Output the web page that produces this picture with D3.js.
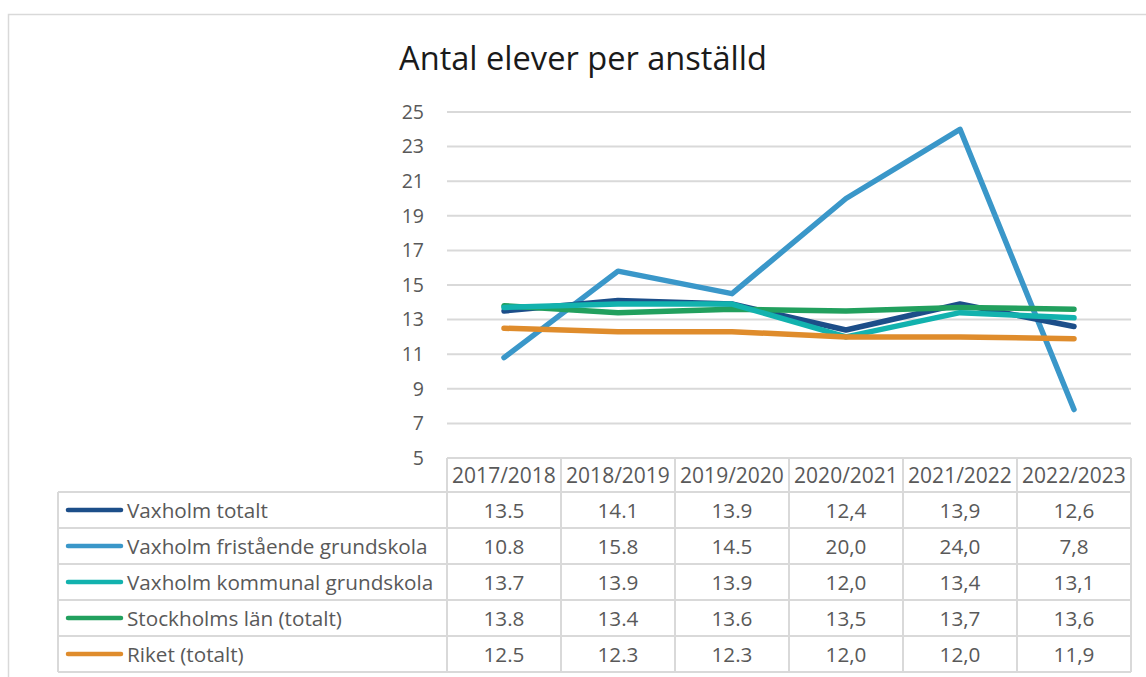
<!DOCTYPE html>
<html>
<head>
<meta charset="utf-8">
<script src="https://cdn.jsdelivr.net/npm/d3@7"></script>
<style>
  body { margin: 0; background: #fff; }
  svg { display: block; font-family: "Open Sans", sans-serif; }
</style>
</head>
<body>
<svg id="chart" width="1146" height="677"></svg>
<script>
// data
const categories = ['2017/2018', '2018/2019', '2019/2020', '2020/2021', '2021/2022', '2022/2023'];
const decimalMarks = ['.', '.', '.', ',', ',', ','];
const seriesNames = [
    'Vaxholm totalt',
    'Vaxholm fristående grundskola',
    'Vaxholm kommunal grundskola',
    'Stockholms län (totalt)',
    'Riket (totalt)'
];
const vaxholmTotalt = [13.5, 14.1, 13.9, 12.4, 13.9, 12.6];
const vaxholmFristaende = [10.8, 15.8, 14.5, 20.0, 24.0, 7.8];
const vaxholmKommunal = [13.7, 13.9, 13.9, 12.0, 13.4, 13.1];
const stockholmsLan = [13.8, 13.4, 13.6, 13.5, 13.7, 13.6];
const riket = [12.5, 12.3, 12.3, 12.0, 12.0, 11.9];
const yTicks = [5, 7, 9, 11, 13, 15, 17, 19, 21, 23, 25];

const seriesValues = [vaxholmTotalt, vaxholmFristaende, vaxholmKommunal, stockholmsLan, riket];
const colors = ['#1c4e89', '#3a97c9', '#12b2ae', '#22a05e', '#df8c2c'];
// draw order: green before teal so teal sits on top like the original
const drawOrder = [1, 0, 3, 2, 4];

const svg = d3.select('#chart');
const grey = '#d9d9d9';
const txt = '#595959';
const fs = 20.7;

const plot = {l: 447, r: 1131, t: 112, b: 458};
const rowH = 36;
const headH = 34;
const legendL = 58;

const xS = d3.scaleBand().domain(categories).range([plot.l, plot.r]);
const yS = d3.scaleLinear().domain([5, 25]).range([plot.b, plot.t]);

// outer chart border
svg.append('rect')
  .attr('x', 8.5).attr('y', 14.5)
  .attr('width', 1160).attr('height', 700)
  .attr('fill', 'none').attr('stroke', grey).attr('stroke-width', 1.5);

// title
svg.append('text')
  .attr('x', 583).attr('y', 70)
  .attr('text-anchor', 'middle')
  .attr('font-size', 32.6)
  .attr('fill', '#1a1a1a')
  .text('Antal elever per anställd');

// gridlines
svg.append('g').selectAll('line')
  .data(yTicks.filter(d => d > 5))
  .join('line')
  .attr('x1', plot.l).attr('x2', plot.r)
  .attr('y1', d => yS(d)).attr('y2', d => yS(d))
  .attr('stroke', grey).attr('stroke-width', 2);

// y axis labels
const yAxis = svg.append('g')
  .attr('transform', `translate(${plot.l},0)`)
  .call(d3.axisLeft(yS).tickValues(yTicks).tickSize(0).tickPadding(23).tickFormat(d3.format('d')));
yAxis.select('.domain').remove();
yAxis.selectAll('text')
  .attr('font-family', '"Open Sans", sans-serif')
  .attr('font-size', 19.5)
  .attr('fill', txt);

// lines
const line = d3.line()
  .x((d, i) => xS(categories[i]) + xS.bandwidth() / 2)
  .y(d => yS(d));

svg.append('g').selectAll('path')
  .data(drawOrder)
  .join('path')
  .attr('d', k => line(seriesValues[k]))
  .attr('fill', 'none')
  .attr('stroke', k => colors[k])
  .attr('stroke-width', 5.5)
  .attr('stroke-linejoin', 'round')
  .attr('stroke-linecap', 'round');

// data table
const tbl = svg.append('g');
const tableTop = plot.b;
const bodyTop = tableTop + headH;
const tableBottom = bodyTop + rowH * seriesNames.length;

// header cells
tbl.selectAll('.hdr')
  .data(categories)
  .join('text')
  .attr('class', 'hdr')
  .attr('x', d => xS(d) + xS.bandwidth() / 2)
  .attr('y', tableTop + headH / 2 + 7.5)
  .attr('text-anchor', 'middle')
  .attr('font-size', 21)
  .attr('fill', txt)
  .text(d => d);

// row names + keys
const rows = tbl.selectAll('.row')
  .data(seriesNames)
  .join('g')
  .attr('class', 'row')
  .attr('transform', (d, i) => `translate(0,${bodyTop + i * rowH})`);

rows.append('line')
  .attr('x1', 68).attr('x2', 121)
  .attr('y1', rowH / 2).attr('y2', rowH / 2)
  .attr('stroke', (d, i) => colors[i])
  .attr('stroke-width', 4.5)
  .attr('stroke-linecap', 'round');

rows.append('text')
  .attr('x', 127).attr('y', rowH / 2 + 7.5)
  .attr('font-size', fs)
  .attr('fill', txt)
  .text(d => d);

rows.selectAll('.val')
  .data((d, i) => seriesValues[i].map((v, j) => ({v, j})))
  .join('text')
  .attr('class', 'val')
  .attr('x', d => xS(categories[d.j]) + xS.bandwidth() / 2)
  .attr('y', rowH / 2 + 7.5)
  .attr('text-anchor', 'middle')
  .attr('font-size', fs)
  .attr('fill', txt)
  .text(d => d.v.toFixed(1).replace('.', decimalMarks[d.j]));

// table grid
const hLines = [tableTop].concat(seriesNames.map((d, i) => bodyTop + i * rowH), [tableBottom]);
tbl.selectAll('.hl')
  .data(hLines)
  .join('line')
  .attr('x1', (d, i) => i === 0 ? plot.l : legendL)
  .attr('x2', plot.r)
  .attr('y1', d => d).attr('y2', d => d)
  .attr('stroke', grey).attr('stroke-width', 2);

const vLines = categories.map(c => xS(c)).concat([plot.r]);
tbl.selectAll('.vl')
  .data(vLines)
  .join('line')
  .attr('x1', d => d).attr('x2', d => d)
  .attr('y1', tableTop).attr('y2', tableBottom)
  .attr('stroke', grey).attr('stroke-width', 2);

tbl.append('line')
  .attr('x1', legendL).attr('x2', legendL)
  .attr('y1', bodyTop).attr('y2', tableBottom)
  .attr('stroke', grey).attr('stroke-width', 2);
</script>
</body>
</html>
